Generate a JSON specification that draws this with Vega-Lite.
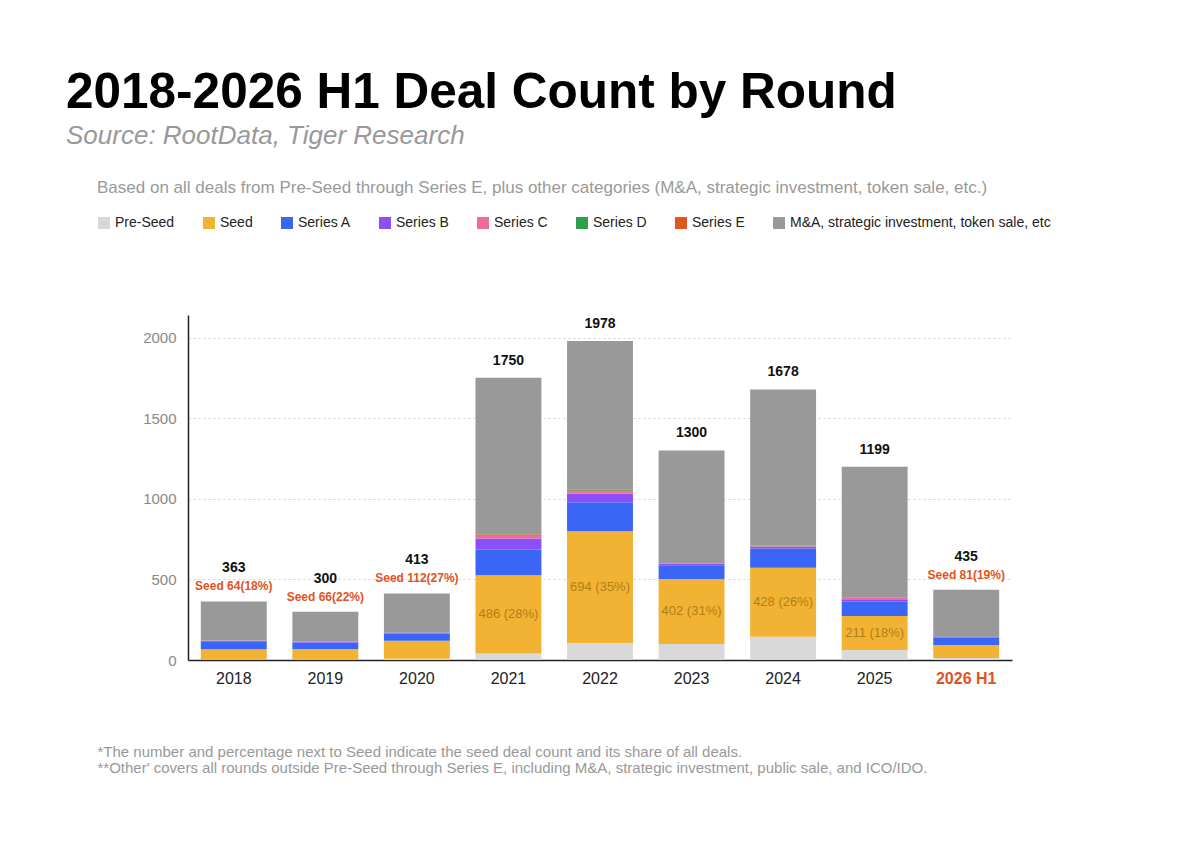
{
  "$schema": "https://vega.github.io/schema/vega-lite/v6.json",
  "autosize": {"type": "none"},
  "width": 824,
  "height": 345,
  "padding": {"left": 188, "top": 315, "right": 188, "bottom": 186},
  "background": "#ffffff",
  "title": {
    "text": "2018-2026 H1 Deal Count by Round",
    "subtitle": "Source: RootData, Tiger Research",
    "anchor": "start",
    "frame": "group",
    "dx": -122,
    "offset": 30,
    "font": "Liberation Sans",
    "fontSize": 49.5,
    "fontWeight": "bold",
    "color": "#000000",
    "subtitleFont": "Liberation Sans",
    "subtitleFontSize": 26,
    "subtitleFontStyle": "italic",
    "subtitleColor": "#999999",
    "subtitlePadding": 5
  },
  "datasets": {
    "segments": [
      {"year": "2018", "round": "Pre-Seed", "k": 1, "n": 2},
      {"year": "2018", "round": "Seed", "k": 2, "n": 64},
      {"year": "2018", "round": "Series A", "k": 3, "n": 50},
      {"year": "2018", "round": "Series B", "k": 4, "n": 4},
      {"year": "2018", "round": "Series C", "k": 5, "n": 1},
      {"year": "2018", "round": "Series D", "k": 6, "n": 0},
      {"year": "2018", "round": "Series E", "k": 7, "n": 0},
      {"year": "2018", "round": "M&A, strategic investment, token sale, etc", "k": 8, "n": 242},
      {"year": "2019", "round": "Pre-Seed", "k": 1, "n": 2},
      {"year": "2019", "round": "Seed", "k": 2, "n": 66},
      {"year": "2019", "round": "Series A", "k": 3, "n": 41},
      {"year": "2019", "round": "Series B", "k": 4, "n": 3},
      {"year": "2019", "round": "Series C", "k": 5, "n": 1},
      {"year": "2019", "round": "Series D", "k": 6, "n": 0},
      {"year": "2019", "round": "Series E", "k": 7, "n": 0},
      {"year": "2019", "round": "M&A, strategic investment, token sale, etc", "k": 8, "n": 187},
      {"year": "2020", "round": "Pre-Seed", "k": 1, "n": 8},
      {"year": "2020", "round": "Seed", "k": 2, "n": 112},
      {"year": "2020", "round": "Series A", "k": 3, "n": 45},
      {"year": "2020", "round": "Series B", "k": 4, "n": 5},
      {"year": "2020", "round": "Series C", "k": 5, "n": 1},
      {"year": "2020", "round": "Series D", "k": 6, "n": 0},
      {"year": "2020", "round": "Series E", "k": 7, "n": 0},
      {"year": "2020", "round": "M&A, strategic investment, token sale, etc", "k": 8, "n": 242},
      {"year": "2021", "round": "Pre-Seed", "k": 1, "n": 40},
      {"year": "2021", "round": "Seed", "k": 2, "n": 486, "inside": "486 (28%)"},
      {"year": "2021", "round": "Series A", "k": 3, "n": 160},
      {"year": "2021", "round": "Series B", "k": 4, "n": 68},
      {"year": "2021", "round": "Series C", "k": 5, "n": 17},
      {"year": "2021", "round": "Series D", "k": 6, "n": 6},
      {"year": "2021", "round": "Series E", "k": 7, "n": 3},
      {"year": "2021", "round": "M&A, strategic investment, token sale, etc", "k": 8, "n": 970},
      {"year": "2022", "round": "Pre-Seed", "k": 1, "n": 105},
      {"year": "2022", "round": "Seed", "k": 2, "n": 694, "inside": "694 (35%)"},
      {"year": "2022", "round": "Series A", "k": 3, "n": 180},
      {"year": "2022", "round": "Series B", "k": 4, "n": 52},
      {"year": "2022", "round": "Series C", "k": 5, "n": 16},
      {"year": "2022", "round": "Series D", "k": 6, "n": 6},
      {"year": "2022", "round": "Series E", "k": 7, "n": 5},
      {"year": "2022", "round": "M&A, strategic investment, token sale, etc", "k": 8, "n": 920},
      {"year": "2023", "round": "Pre-Seed", "k": 1, "n": 100},
      {"year": "2023", "round": "Seed", "k": 2, "n": 402, "inside": "402 (31%)"},
      {"year": "2023", "round": "Series A", "k": 3, "n": 86},
      {"year": "2023", "round": "Series B", "k": 4, "n": 8},
      {"year": "2023", "round": "Series C", "k": 5, "n": 3},
      {"year": "2023", "round": "Series D", "k": 6, "n": 1},
      {"year": "2023", "round": "Series E", "k": 7, "n": 0},
      {"year": "2023", "round": "M&A, strategic investment, token sale, etc", "k": 8, "n": 700},
      {"year": "2024", "round": "Pre-Seed", "k": 1, "n": 144},
      {"year": "2024", "round": "Seed", "k": 2, "n": 428, "inside": "428 (26%)"},
      {"year": "2024", "round": "Series A", "k": 3, "n": 120},
      {"year": "2024", "round": "Series B", "k": 4, "n": 10},
      {"year": "2024", "round": "Series C", "k": 5, "n": 4},
      {"year": "2024", "round": "Series D", "k": 6, "n": 2},
      {"year": "2024", "round": "Series E", "k": 7, "n": 0},
      {"year": "2024", "round": "M&A, strategic investment, token sale, etc", "k": 8, "n": 970},
      {"year": "2025", "round": "Pre-Seed", "k": 1, "n": 62},
      {"year": "2025", "round": "Seed", "k": 2, "n": 211, "inside": "211 (18%)"},
      {"year": "2025", "round": "Series A", "k": 3, "n": 89},
      {"year": "2025", "round": "Series B", "k": 4, "n": 15},
      {"year": "2025", "round": "Series C", "k": 5, "n": 8},
      {"year": "2025", "round": "Series D", "k": 6, "n": 2},
      {"year": "2025", "round": "Series E", "k": 7, "n": 1},
      {"year": "2025", "round": "M&A, strategic investment, token sale, etc", "k": 8, "n": 811},
      {"year": "2026 H1", "round": "Pre-Seed", "k": 1, "n": 12},
      {"year": "2026 H1", "round": "Seed", "k": 2, "n": 81},
      {"year": "2026 H1", "round": "Series A", "k": 3, "n": 47},
      {"year": "2026 H1", "round": "Series B", "k": 4, "n": 6},
      {"year": "2026 H1", "round": "Series C", "k": 5, "n": 2},
      {"year": "2026 H1", "round": "Series D", "k": 6, "n": 1},
      {"year": "2026 H1", "round": "Series E", "k": 7, "n": 0},
      {"year": "2026 H1", "round": "M&A, strategic investment, token sale, etc", "k": 8, "n": 286}
    ],
    "totals": [
      {"year": "2018", "total": 363, "seed": "Seed 64(18%)"},
      {"year": "2019", "total": 300, "seed": "Seed 66(22%)"},
      {"year": "2020", "total": 413, "seed": "Seed 112(27%)"},
      {"year": "2021", "total": 1750},
      {"year": "2022", "total": 1978},
      {"year": "2023", "total": 1300},
      {"year": "2024", "total": 1678},
      {"year": "2025", "total": 1199},
      {"year": "2026 H1", "total": 435, "seed": "Seed 81(19%)"}
    ]
  },
  "encoding": {
    "x": {
      "field": "year",
      "type": "nominal",
      "sort": null,
      "scale": {"paddingInner": 0.28, "paddingOuter": 0.14},
      "axis": {
        "labelAngle": 0,
        "labelFont": "Liberation Sans",
        "labelFontSize": 16,
        "labelColor": {"condition": {"test": "datum.value == '2026 H1'", "value": "#e0531f"}, "value": "#222222"},
        "labelFontWeight": {"condition": {"test": "datum.value == '2026 H1'", "value": "bold"}, "value": "normal"},
        "labelPadding": 10,
        "ticks": false,
        "domainColor": "#222222",
        "domainWidth": 1.5,
        "title": [
          "*The number and percentage next to Seed indicate the seed deal count and its share of all deals.",
          "**Other' covers all rounds outside Pre-Seed through Series E, including M&A, strategic investment, public sale, and ICO/IDO."
        ],
        "titleFont": "Liberation Sans",
        "titleFontSize": 15,
        "titleFontWeight": "normal",
        "titleColor": "#999999",
        "titleLineHeight": 16,
        "titleAlign": "left",
        "titleBaseline": "top",
        "titleX": -91,
        "titleY": 84
      }
    }
  },
  "layer": [
    {
      "data": {"name": "segments"},
      "mark": {"type": "bar"},
      "encoding": {
        "y": {
          "field": "n",
          "type": "quantitative",
          "stack": "zero",
          "scale": {"domain": [0, 2140], "nice": false},
          "axis": {
            "values": [0, 500, 1000, 1500, 2000],
            "format": "d",
            "title": null,
            "ticks": false,
            "labelFont": "Liberation Sans",
            "labelFontSize": 15,
            "labelColor": "#888888",
            "labelPadding": 12,
            "domainColor": "#222222",
            "domainWidth": 1.5,
            "grid": true,
            "gridColor": "#d0d0d0",
            "gridDash": [2, 3],
            "gridWidth": 1
          }
        },
        "color": {
          "field": "round",
          "type": "nominal",
          "scale": {
            "domain": ["Pre-Seed", "Seed", "Series A", "Series B", "Series C", "Series D", "Series E", "M&A, strategic investment, token sale, etc"],
            "range": ["#d9d9d9", "#f2b233", "#3b66f5", "#8b50f7", "#f06b9c", "#2f9e4a", "#e0561b", "#999999"]
          },
          "legend": {
            "orient": "none",
            "legendX": -91,
            "legendY": -135,
            "direction": "horizontal",
            "columns": 8,
            "title": "Based on all deals from Pre-Seed through Series E, plus other categories (M&A, strategic investment, token sale, etc.)",
            "titleFont": "Liberation Sans",
            "titleFontSize": 17,
            "titleFontWeight": "normal",
            "titleColor": "#999999",
            "titleLimit": 1100,
            "titlePadding": 19,
            "labelFont": "Liberation Sans",
            "labelFontSize": 14,
            "labelColor": "#222222",
            "labelLimit": 400,
            "symbolType": "square",
            "symbolSize": 144,
            "symbolStrokeWidth": 0,
            "columnPadding": 27
          }
        },
        "order": {"field": "k", "type": "quantitative"}
      }
    },
    {
      "data": {"name": "segments"},
      "mark": {"type": "text", "font": "Liberation Sans", "fontSize": 13, "color": "#b07f17"},
      "encoding": {
        "y": {"field": "n", "type": "quantitative", "stack": "zero", "bandPosition": 0.5},
        "detail": {"field": "round"},
        "order": {"field": "k", "type": "quantitative"},
        "text": {"condition": {"test": "datum.inside", "field": "inside"}, "value": ""}
      }
    },
    {
      "data": {"name": "totals"},
      "transform": [{"filter": "datum.seed"}],
      "mark": {"type": "text", "font": "Liberation Sans", "fontSize": 14, "fontWeight": "bold", "color": "#111111", "dy": -33},
      "encoding": {
        "y": {"field": "total", "type": "quantitative"},
        "text": {"field": "total", "type": "quantitative"}
      }
    },
    {
      "data": {"name": "totals"},
      "transform": [{"filter": "datum.seed"}],
      "mark": {"type": "text", "font": "Liberation Sans", "fontSize": 12, "fontWeight": "bold", "color": "#e0531f", "dy": -15},
      "encoding": {
        "y": {"field": "total", "type": "quantitative"},
        "text": {"field": "seed", "type": "nominal"}
      }
    },
    {
      "data": {"name": "totals"},
      "transform": [{"filter": "!datum.seed"}],
      "mark": {"type": "text", "font": "Liberation Sans", "fontSize": 14, "fontWeight": "bold", "color": "#111111", "dy": -17},
      "encoding": {
        "y": {"field": "total", "type": "quantitative"},
        "text": {"field": "total", "type": "quantitative"}
      }
    }
  ],
  "config": {
    "view": {"stroke": null}
  }
}
